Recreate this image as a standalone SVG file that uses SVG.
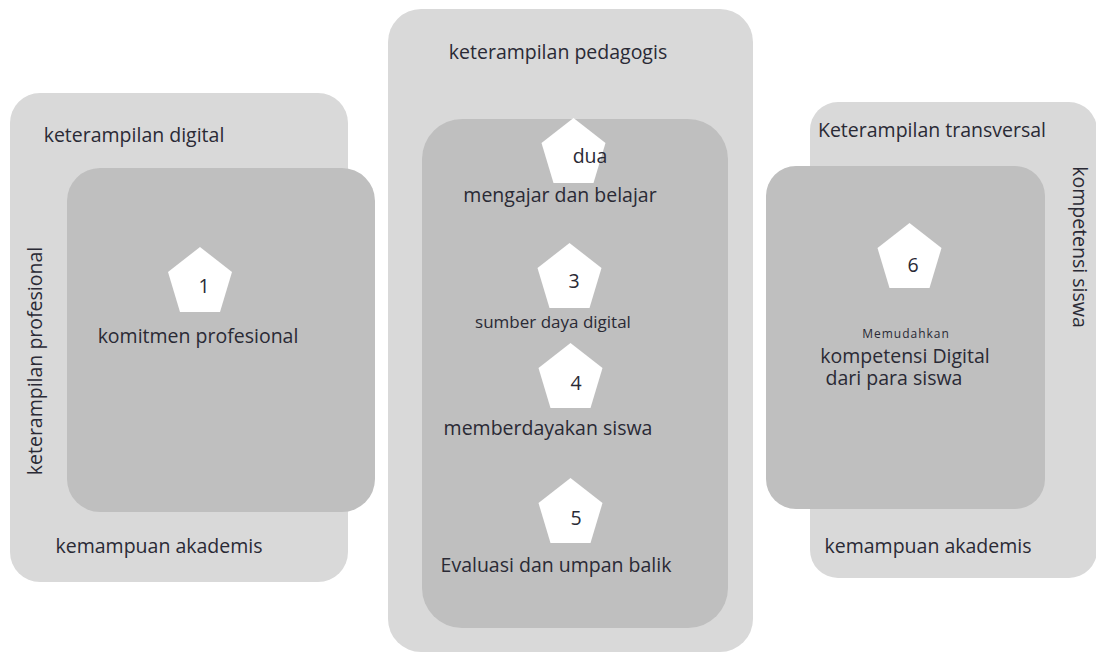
<svg xmlns="http://www.w3.org/2000/svg" xmlns:xlink="http://www.w3.org/1999/xlink" width="1096" height="655" viewBox="0 0 1096 655">
  <style>
    .outer { fill: #d9d9d9; }
    .inner { fill: #bfbfbf; }
    .penta { fill: #ffffff; }
    text { font-family: "Open Sans", "Noto Sans", "Liberation Sans", sans-serif; font-size: 19.5px; fill: #2a2a35; text-anchor: middle; }
    .small { font-size: 17px; }
    .tiny { font-size: 12px; letter-spacing: 1px; }
  </style>
  <defs>
    <polygon id="pent" points="0,0 32,25 20,65 -20,65 -32,25"/>
  </defs>
  <rect width="1096" height="655" fill="#ffffff"/>

  <g id="group-left">
    <rect class="outer" x="10" y="93" width="338" height="489" rx="30" ry="30"/>
    <text x="134" y="142">keterampilan digital</text>
    <text transform="translate(42,361) rotate(-90)">keterampilan profesional</text>
    <text x="159" y="553">kemampuan akademis</text>
    <rect class="inner" x="67" y="168" width="308" height="344" rx="33" ry="33"/>
  </g>
  <g id="node-1">
    <use href="#pent" xlink:href="#pent" class="penta" x="200" y="247"/>
    <text x="204" y="293">1</text>
    <text x="198" y="343">komitmen profesional</text>
  </g>

  <g id="group-middle">
    <rect class="outer" x="388" y="9" width="365" height="643" rx="33" ry="33"/>
    <text x="558" y="59">keterampilan pedagogis</text>
    <rect class="inner" x="422" y="119" width="306" height="509" rx="40" ry="40"/>
  </g>
  <g id="node-2">
    <use href="#pent" xlink:href="#pent" class="penta" x="573.5" y="118"/>
    <text x="590" y="163">dua</text>
    <text x="560" y="202">mengajar dan belajar</text>
  </g>
  <g id="node-3">
    <use href="#pent" xlink:href="#pent" class="penta" x="569.5" y="243"/>
    <text x="574" y="288">3</text>
    <text class="small" x="553" y="328">sumber daya digital</text>
  </g>
  <g id="node-4">
    <use href="#pent" xlink:href="#pent" class="penta" x="570.5" y="343"/>
    <text x="576" y="390">4</text>
    <text x="548" y="435">memberdayakan siswa</text>
  </g>
  <g id="node-5">
    <use href="#pent" xlink:href="#pent" class="penta" x="570.5" y="478"/>
    <text x="576" y="525">5</text>
    <text x="556" y="572">Evaluasi dan umpan balik</text>
  </g>

  <g id="group-right">
    <rect class="outer" x="810" y="102" width="287" height="476" rx="28" ry="28"/>
    <text x="932" y="137">Keterampilan transversal</text>
    <text transform="translate(1073,247) rotate(90)">kompetensi siswa</text>
    <text x="928" y="553">kemampuan akademis</text>
    <rect class="inner" x="766" y="166" width="279" height="343" rx="30" ry="30"/>
  </g>
  <g id="node-6">
    <use href="#pent" xlink:href="#pent" class="penta" x="909.5" y="223"/>
    <text x="913" y="272">6</text>
    <text class="tiny" x="906" y="338">Memudahkan</text>
    <text x="905" y="363">kompetensi Digital</text>
    <text x="894" y="385">dari para siswa</text>
  </g>

  <g id="connectors"/>
</svg>
